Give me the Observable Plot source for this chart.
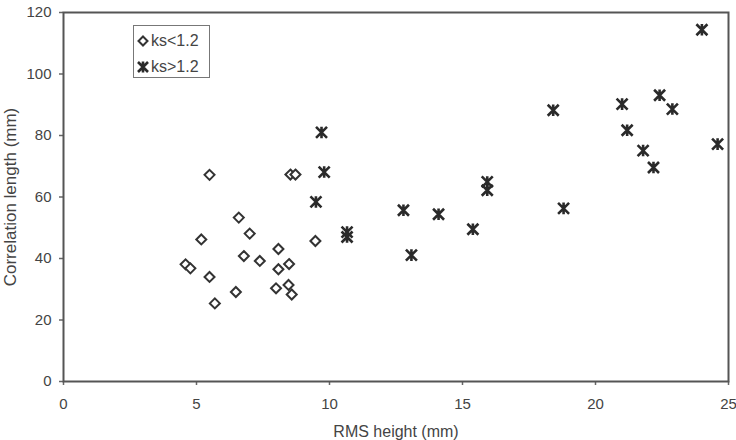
<!DOCTYPE html>
<html>
<head>
<meta charset="utf-8">
<script src="https://cdn.jsdelivr.net/npm/d3@7"></script>
<script src="https://cdn.jsdelivr.net/npm/@observablehq/plot@0.6"></script>
<style>
  html, body { margin: 0; padding: 0; background: #fff; }
  #wrap { position: relative; width: 736px; height: 440px; overflow: hidden; font-family: "Liberation Sans", Arial, sans-serif; }
  #legend { position: absolute; left: 133px; top: 25px; width: 77px; height: 53px; border: 1px solid #777; background: #fff; box-sizing: border-box; }
  .row { position: absolute; left: 0; height: 20px; display: flex; align-items: center; font-size: 16px; color: #444; }
  .row svg { margin-left: 3px; margin-right: 2px; }
</style>
</head>
<body>
<div id="wrap"></div>
<script>
// ks < 1.2 (diamonds)
const lowX = [5.49, 8.53, 8.72, 6.59, 7.0, 5.18, 9.47, 8.08, 6.78, 7.38, 4.59, 4.77, 8.48, 8.08, 5.49, 6.48, 7.99, 8.46, 8.58, 5.69];
const lowY = [67.2, 67.3, 67.3, 53.3, 48.1, 46.2, 45.7, 43.1, 40.8, 39.2, 38.1, 36.8, 38.2, 36.5, 34.0, 29.1, 30.3, 31.4, 28.3, 25.4];
// ks > 1.2 (asterisks)
const highX = [9.70, 9.80, 9.49, 10.66, 10.66, 12.78, 14.10, 15.39, 13.08, 15.93, 15.93, 24.0, 18.41, 21.0, 22.41, 22.89, 21.19, 21.79, 22.18, 24.59, 18.8];
const highY = [81.0, 68.1, 58.4, 47.0, 48.6, 55.7, 54.4, 49.5, 41.1, 64.9, 62.2, 114.4, 88.2, 90.2, 93.1, 88.6, 81.7, 75.1, 69.6, 77.2, 56.3];
const xTicks = [0, 5, 10, 15, 20, 25];
const yTicks = [0, 20, 40, 60, 80, 100, 120];
const seriesNames = ["ks<1.2", "ks>1.2"];
const xTitle = "RMS height (mm)";
const yTitle = "Correlation length (mm)";

const low = lowX.map((x, i) => ({x, y: lowY[i]}));
const high = highX.map((x, i) => ({x, y: highY[i]}));

const excelStar = {
  draw(ctx, size) {
    const r = Math.sqrt(size / Math.PI);
    ctx.moveTo(-r, -r); ctx.lineTo(r, r);
    ctx.moveTo(r, -r); ctx.lineTo(-r, r);
    ctx.moveTo(0, -r * 1.05); ctx.lineTo(0, r * 1.05);
  }
};

const chart = Plot.plot({
  width: 736,
  height: 440,
  marginLeft: 63,
  marginRight: 8,
  marginTop: 12,
  marginBottom: 59,
  style: {fontFamily: "Liberation Sans, Arial, sans-serif", color: "#444", background: "white"},
  x: {domain: [0, 25]},
  y: {domain: [0, 120]},
  marks: [
    Plot.axisX({ticks: xTicks, tickSize: 4, tickPadding: 13, fontSize: 15, label: null, stroke: "#666", strokeWidth: 1.5, fill: "#444"}),
    Plot.axisY({ticks: yTicks, tickSize: 4, tickPadding: 8, fontSize: 15, label: null, stroke: "#666", strokeWidth: 1.5, fill: "#444"}),
    Plot.frame({stroke: "#555", strokeWidth: 2}),
    Plot.dot(low, {x: "x", y: "y", symbol: "diamond2", r: 4.5, stroke: "#333", strokeWidth: 2, fill: "white"}),
    Plot.dot(high, {x: "x", y: "y", symbol: excelStar, r: 5.5, stroke: "#2a2a2a", strokeWidth: 2.6}),
    Plot.text([xTitle], {frameAnchor: "bottom", dy: 50, fontSize: 16, fill: "#444", textAnchor: "middle", lineAnchor: "middle"}),
    Plot.text([yTitle], {frameAnchor: "left", dx: -53, rotate: -90, fontSize: 17, fill: "#444", textAnchor: "middle", lineAnchor: "middle"})
  ]
});

const wrap = document.getElementById("wrap");
wrap.appendChild(chart);

// legend
const legend = document.createElement("div");
legend.id = "legend";
const diamondSvg = '<svg width="12" height="12" viewBox="-6 -6 12 12"><path d="M0,-4.5L4.5,0L0,4.5L-4.5,0Z" fill="white" stroke="#333" stroke-width="2"/></svg>';
const starSvg = '<svg width="12" height="14" viewBox="-6 -7 12 14"><path d="M-5,-5L5,5M5,-5L-5,5M0,-5.5L0,5.5" stroke="#2a2a2a" stroke-width="2.6"/></svg>';
const markers = [diamondSvg, starSvg];
const tops = [5, 31];
seriesNames.forEach((name, i) => {
  const row = document.createElement("div");
  row.className = "row";
  row.style.top = tops[i] + "px";
  row.innerHTML = markers[i] + "<span>" + name + "</span>";
  legend.appendChild(row);
});
wrap.appendChild(legend);
</script>
</body>
</html>
